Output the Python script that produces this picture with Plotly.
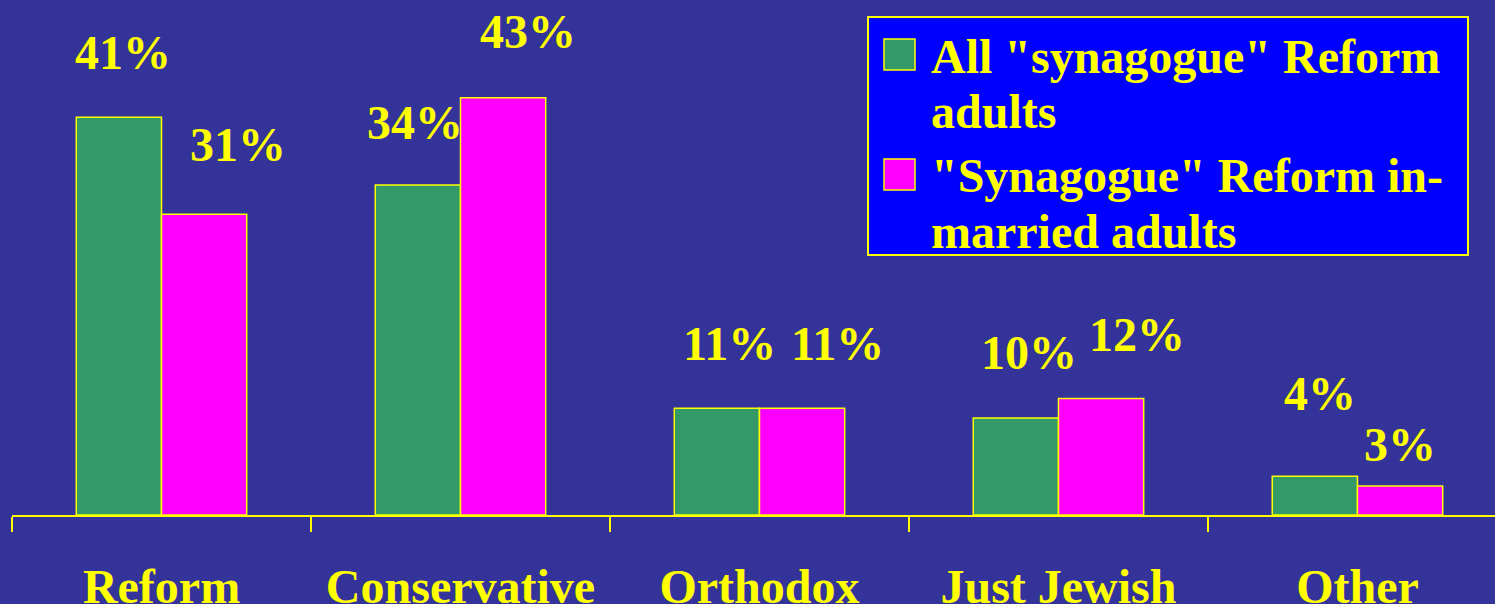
import plotly.graph_objects as go

categories = ["Reform", "Conservative", "Orthodox", "Just Jewish", "Other"]
series_names = [['All "synagogue" Reform', 'adults'], ['"Synagogue" Reform in-', 'married adults']]
all_adults = [41, 34, 11, 10, 4]
inmarried_adults = [31, 43, 11, 12, 3]

BG = "#333399"
YELLOW = "#FFFF00"
GREEN = "#339966"
MAGENTA = "#FF00FF"
LEGEND_BG = "#0000FF"
FONT = "Liberation Serif, Times New Roman, serif"
FS = 48

W, H = 1495, 604
ML, MB = 12, 89
PW, PH = W - ML, H - MB

# label pixel offsets (style only): relative to each bar's top-center
lab_dx = [[4, -3, 13, 13, 5], [34, 25, 36, 36, 0]]
lab_dy = [[65, 63, 65, 65, 83], [70, 66, 65, 64, 41]]
bar_half = 42.5


def px(x):
    return (x - ML) / PW


def py(y):
    return 1 - y / PH


fig = go.Figure()
fig.add_trace(go.Bar(x=categories, y=all_adults, name=" ".join(series_names[0]),
                     marker=dict(color=GREEN, line=dict(color=YELLOW, width=1.5))))
fig.add_trace(go.Bar(x=categories, y=inmarried_adults, name=" ".join(series_names[1]),
                     marker=dict(color=MAGENTA, line=dict(color=YELLOW, width=1.5))))

for si, vals in enumerate([all_adults, inmarried_adults]):
    sign = -1 if si == 0 else 1
    for ci, (c, v) in enumerate(zip(categories, vals)):
        fig.add_annotation(x=c, y=v, text=f"{v}%", showarrow=False,
                           xanchor="center", yanchor="middle",
                           xshift=sign * bar_half + lab_dx[si][ci], yshift=lab_dy[si][ci],
                           font=dict(family=FONT, size=FS, color=YELLOW, weight="bold"))

# custom legend (box, swatches, text lines)
fig.add_shape(type="rect", xref="paper", yref="paper",
              x0=px(868), x1=px(1468), y0=py(255), y1=py(17),
              fillcolor=LEGEND_BG, line=dict(color=YELLOW, width=2), layer="above")
sw_colors = [GREEN, MAGENTA]
sw_top = [39, 159]
line_mid = [[56, 111], [176, 231]]
for si in range(2):
    fig.add_shape(type="rect", xref="paper", yref="paper",
                  x0=px(884), x1=px(915), y0=py(sw_top[si] + 31), y1=py(sw_top[si]),
                  fillcolor=sw_colors[si], line=dict(color=YELLOW, width=1.5), layer="above")
    for li, txt in enumerate(series_names[si]):
        fig.add_annotation(xref="paper", yref="paper", x=px(929), y=py(line_mid[si][li]),
                           text=txt, showarrow=False, xanchor="left", yanchor="middle",
                           font=dict(family=FONT, size=FS, color=YELLOW, weight="bold"))

fig.update_layout(
    width=W, height=H,
    paper_bgcolor=BG, plot_bgcolor=BG,
    margin=dict(l=ML, r=0, t=0, b=MB, autoexpand=False),
    barmode="group", bargap=0.43, bargroupgap=0,
    showlegend=False,
    xaxis=dict(range=[-0.5, 4.46], showline=True, linecolor=YELLOW, linewidth=2,
               ticks="outside", tickson="boundaries", ticklen=15, tickcolor=YELLOW, tickwidth=2,
               ticklabelstandoff=28, automargin=False,
               tickfont=dict(family=FONT, size=FS, color=YELLOW, weight="bold"),
               showgrid=False, zeroline=False, fixedrange=True),
    yaxis=dict(range=[0, 53.07], visible=False, showgrid=False, zeroline=False, fixedrange=True,
               automargin=False),
)

fig.write_html("out.html", config={"displayModeBar": False},
               post_script="document.body.style.margin='0';document.body.style.background='%s';" % BG)
